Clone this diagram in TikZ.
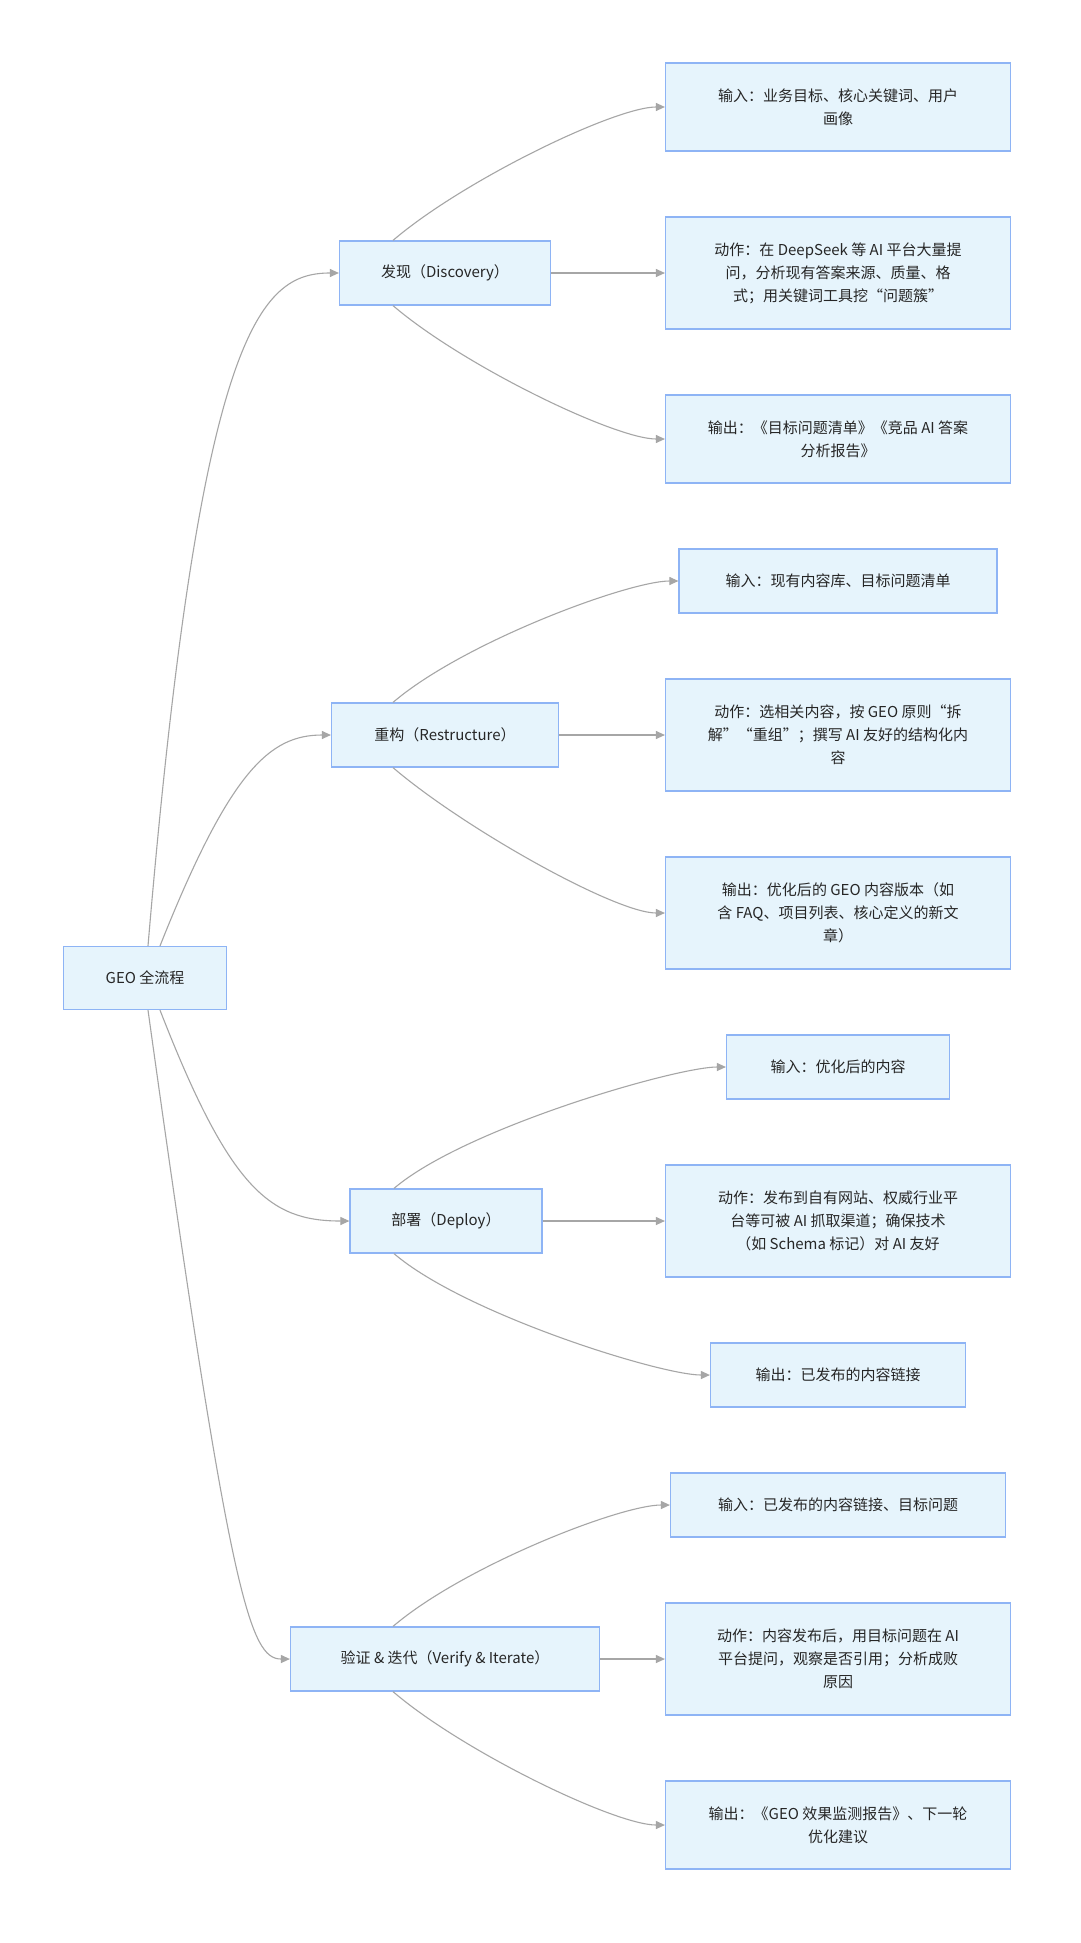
\documentclass[tikz,border=0pt]{standalone}
\usepackage{fontspec}
\setmainfont{Noto Sans CJK SC}
\usetikzlibrary{arrows.meta}
\definecolor{bfill}{HTML}{E6F4FC}
\definecolor{bdraw}{HTML}{8EB4F5}
\definecolor{eline}{HTML}{A6A6A6}
\begin{document}
\begin{tikzpicture}[x=1pt,y=-1pt,
 box/.style={draw=bdraw,fill=bfill,line width=1.2pt,align=center,inner sep=0pt,font=\fontsize{15}{23}\selectfont,text=black!85},
 edge/.style={draw=eline,line width=1.1pt,-{Triangle[length=9pt,width=8pt]}}]
\useasboundingbox[fill=white] (0,0) rectangle (1080,1943);
\node[box,minimum width=163,minimum height=63] (geo) at (145,978) {GEO 全流程};
\node[box,minimum width=211,minimum height=64] (p1) at (445,273) {发现（Discovery）};
\node[box,minimum width=227,minimum height=64] (p2) at (445,735) {重构（Restructure）};
\node[box,minimum width=192,minimum height=64] (p3) at (446,1221) {部署（Deploy）};
\node[box,minimum width=309,minimum height=64] (p4) at (445,1659) {验证 \& 迭代（Verify \& Iterate）};
\node[box,minimum width=345,minimum height=88] (d1) at (838,107) {输入：业务目标、核心关键词、用户\\画像};
\node[box,minimum width=345,minimum height=112] (d2) at (838,273) {动作：在 DeepSeek 等 AI 平台大量提\\问，分析现有答案来源、质量、格\\式；用关键词工具挖“问题簇”};
\node[box,minimum width=345,minimum height=88] (d3) at (838,439) {输出：《目标问题清单》《竞品 AI 答案\\分析报告》};
\node[box,minimum width=318,minimum height=64] (r1) at (838,581) {输入：现有内容库、目标问题清单};
\node[box,minimum width=345,minimum height=112] (r2) at (838,735) {动作：选相关内容，按 GEO 原则“拆\\解”“重组”；撰写 AI 友好的结构化内\\容};
\node[box,minimum width=345,minimum height=112] (r3) at (838,913) {输出：优化后的 GEO 内容版本（如\\含 FAQ、项目列表、核心定义的新文\\章）};
\node[box,minimum width=223,minimum height=64] (e1) at (838,1067) {输入：优化后的内容};
\node[box,minimum width=345,minimum height=112] (e2) at (838,1221) {动作：发布到自有网站、权威行业平\\台等可被 AI 抓取渠道；确保技术\\（如 Schema 标记）对 AI 友好};
\node[box,minimum width=255,minimum height=64] (e3) at (838,1375) {输出：已发布的内容链接};
\node[box,minimum width=335,minimum height=64] (v1) at (838,1505) {输入：已发布的内容链接、目标问题};
\node[box,minimum width=345,minimum height=112] (v2) at (838,1659) {动作：内容发布后，用目标问题在 AI\\平台提问，观察是否引用；分析成败\\原因};
\node[box,minimum width=345,minimum height=88] (v3) at (838,1825) {输出：《GEO 效果监测报告》、下一轮\\优化建议};
% root edges
\draw[edge] ([xshift=3]geo.north) .. controls (200,330) and (260,273) .. (p1.west);
\draw[edge] ([xshift=15]geo.north) .. controls (230,770) and (270,735) .. (p2.west);
\draw[edge] ([xshift=15]geo.south) .. controls (230,1190) and (270,1221) .. (p3.west);
\draw[edge] ([xshift=3]geo.south) .. controls (230,1600) and (250,1659) .. (p4.west);
% phase edges
\foreach \p/\a/\b/\c in {p1/d1/d2/d3,p2/r1/r2/r3,p3/e1/e2/e3,p4/v1/v2/v3}{
 \draw[edge] ([xshift=-52]\p.north) .. controls +(70,-60) and +(-50,0) .. (\a.west);
 \draw[edge] (\p.east) -- (\b.west);
 \draw[edge] ([xshift=-52]\p.south) .. controls +(70,60) and +(-50,0) .. (\c.west);
}
\end{tikzpicture}
\end{document}
